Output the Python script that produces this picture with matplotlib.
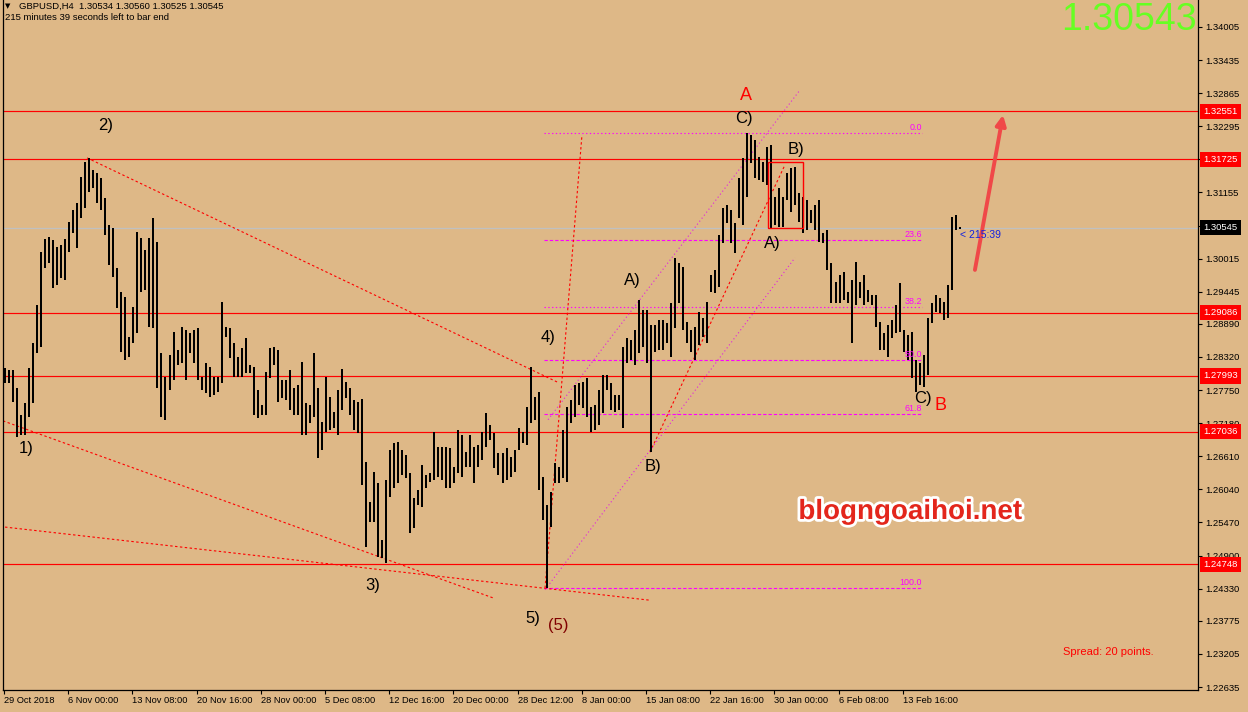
import numpy as np
import matplotlib
matplotlib.use("Agg")
import matplotlib.pyplot as plt
import matplotlib.patheffects as pe
from matplotlib.patches import Rectangle

plt.rcParams['font.family'] = ['Liberation Sans', 'DejaVu Sans']

# ---------------- data ----------------
symbol = "GBPUSD,H4"
last_ohlc = ["1.30534", "1.30560", "1.30525", "1.30545"]
bid = 1.30545

# H4 bars (each entry = 2 consecutive H4 bars merged): highs / lows
highs = [
    1.2813, 1.2810, 1.2810, 1.2779, 1.2732, 1.2753, 1.2813, 1.2856, 1.2922, 1.3013,
    1.3035, 1.3039, 1.3034, 1.3021, 1.3025, 1.3035, 1.3065, 1.3085, 1.3097, 1.3142,
    1.3168, 1.3175, 1.3154, 1.3149, 1.3140, 1.3106, 1.3059, 1.3054, 1.2985, 1.2944,
    1.2935, 1.2866, 1.2918, 1.3047, 1.3037, 1.3016, 1.3037, 1.3071, 1.3030, 1.2839,
    1.2798, 1.2835, 1.2875, 1.2844, 1.2884, 1.2879, 1.2873, 1.2879, 1.2882, 1.2798,
    1.2822, 1.2815, 1.2798, 1.2798, 1.2927, 1.2884, 1.2882, 1.2856, 1.2832, 1.2848,
    1.2865, 1.2818, 1.2815, 1.2775, 1.2749, 1.2806, 1.2848, 1.2849, 1.2844, 1.2792,
    1.2792, 1.2810, 1.2779, 1.2784, 1.2823, 1.2753, 1.2749, 1.2839, 1.2779, 1.2720,
    1.2798, 1.2763, 1.2737, 1.2775, 1.2811, 1.2789, 1.2779, 1.2758, 1.2754, 1.2760,
    1.2651, 1.2582, 1.2634, 1.2615, 1.2517, 1.2620, 1.2672, 1.2684, 1.2686, 1.2672,
    1.2663, 1.2632, 1.2589, 1.2603, 1.2646, 1.2629, 1.2632, 1.2703, 1.2677, 1.2677,
    1.2677, 1.2675, 1.2643, 1.2706, 1.2698, 1.2668, 1.2698, 1.2677, 1.2680, 1.2703,
    1.2736, 1.2715, 1.2701, 1.2667, 1.2667, 1.2675, 1.2660, 1.2672, 1.2710, 1.2703,
    1.2746, 1.2815, 1.2763, 1.2772, 1.2625, 1.2577, 1.2599, 1.2649, 1.2643, 1.2706,
    1.2746, 1.2758, 1.2784, 1.2787, 1.2789, 1.2796, 1.2746, 1.2749, 1.2775, 1.2801,
    1.2801, 1.2787, 1.2767, 1.2767, 1.2849, 1.2865, 1.2861, 1.2879, 1.2930, 1.2913,
    1.2913, 1.2887, 1.2887, 1.2896, 1.2896, 1.2891, 1.2925, 1.3003, 1.2994, 1.2987,
    1.2892, 1.2879, 1.2884, 1.2910, 1.2899, 1.2927, 1.2973, 1.2982, 1.3042, 1.3089,
    1.3094, 1.3085, 1.3063, 1.3140, 1.3175, 1.3218, 1.3214, 1.3206, 1.3177, 1.3168,
    1.3194, 1.3197, 1.3108, 1.3123, 1.3108, 1.3149, 1.3158, 1.3159, 1.3115, 1.3108,
    1.3102, 1.3085, 1.3094, 1.3102, 1.3046, 1.3051, 1.2994, 1.2961, 1.2973, 1.2978,
    1.2944, 1.2965, 1.2996, 1.2961, 1.2973, 1.2947, 1.2939, 1.2939, 1.2892, 1.2873,
    1.2887, 1.2896, 1.2922, 1.2959, 1.2879, 1.2870, 1.2875, 1.2827, 1.2822, 1.2835,
    1.2899, 1.2925, 1.2939, 1.2934, 1.2927, 1.2956, 1.3073, 1.3077, 1.3056,
]
lows = [
    1.2787, 1.2787, 1.2754, 1.2694, 1.2698, 1.2698, 1.2729, 1.2753, 1.2839, 1.2849,
    1.2985, 1.2994, 1.2951, 1.2956, 1.2968, 1.2965, 1.3013, 1.3046, 1.3020, 1.3071,
    1.3089, 1.3116, 1.3123, 1.3097, 1.3085, 1.3042, 1.2990, 1.2970, 1.2916, 1.2841,
    1.2827, 1.2832, 1.2856, 1.2873, 1.2944, 1.2947, 1.2884, 1.2882, 1.2779, 1.2729,
    1.2723, 1.2775, 1.2792, 1.2818, 1.2822, 1.2792, 1.2839, 1.2822, 1.2792, 1.2775,
    1.2770, 1.2763, 1.2767, 1.2772, 1.2787, 1.2866, 1.2830, 1.2798, 1.2798, 1.2798,
    1.2804, 1.2804, 1.2732, 1.2727, 1.2732, 1.2732, 1.2796, 1.2818, 1.2754, 1.2761,
    1.2758, 1.2741, 1.2732, 1.2732, 1.2698, 1.2698, 1.2718, 1.2729, 1.2658, 1.2672,
    1.2703, 1.2706, 1.2710, 1.2698, 1.2741, 1.2761, 1.2732, 1.2706, 1.2701, 1.2611,
    1.2505, 1.2548, 1.2548, 1.2487, 1.2486, 1.2477, 1.2591, 1.2606, 1.2615, 1.2629,
    1.2624, 1.2529, 1.2537, 1.2577, 1.2574, 1.2606, 1.2617, 1.2620, 1.2625, 1.2620,
    1.2606, 1.2606, 1.2615, 1.2632, 1.2625, 1.2643, 1.2643, 1.2615, 1.2643, 1.2655,
    1.2677, 1.2689, 1.2641, 1.2629, 1.2615, 1.2620, 1.2625, 1.2634, 1.2672, 1.2684,
    1.2680, 1.2718, 1.2723, 1.2603, 1.2551, 1.2434, 1.2539, 1.2615, 1.2615, 1.2624,
    1.2617, 1.2718, 1.2729, 1.2749, 1.2744, 1.2729, 1.2703, 1.2706, 1.2715, 1.2736,
    1.2775, 1.2741, 1.2737, 1.2741, 1.2710, 1.2822, 1.2827, 1.2818, 1.2839, 1.2849,
    1.2822, 1.2668, 1.2841, 1.2844, 1.2844, 1.2856, 1.2832, 1.2882, 1.2925, 1.2879,
    1.2856, 1.2841, 1.2827, 1.2853, 1.2866, 1.2856, 1.2944, 1.2942, 1.2953, 1.3028,
    1.3063, 1.3028, 1.3011, 1.3071, 1.3059, 1.3108, 1.3166, 1.3140, 1.3137, 1.3133,
    1.3128, 1.3054, 1.3059, 1.3056, 1.3056, 1.3102, 1.3082, 1.3094, 1.3065, 1.3046,
    1.3051, 1.3063, 1.3051, 1.3030, 1.3028, 1.2982, 1.2925, 1.2925, 1.2925, 1.2930,
    1.2925, 1.2856, 1.2922, 1.2934, 1.2922, 1.2927, 1.2922, 1.2884, 1.2844, 1.2844,
    1.2832, 1.2865, 1.2873, 1.2875, 1.2841, 1.2827, 1.2796, 1.2772, 1.2784, 1.2780,
    1.2801, 1.2891, 1.2910, 1.2908, 1.2896, 1.2899, 1.2947, 1.3051, 1.3052,
]

date_labels = ["29 Oct 2018", "6 Nov 00:00", "13 Nov 08:00", "20 Nov 16:00",
               "28 Nov 00:00", "5 Dec 08:00", "12 Dec 16:00", "20 Dec 00:00",
               "28 Dec 12:00", "8 Jan 00:00", "15 Jan 08:00", "22 Jan 16:00",
               "30 Jan 00:00", "6 Feb 08:00", "13 Feb 16:00"]
date_bar_index = [0, 32, 64, 96, 128, 160, 192, 224, 256, 288, 320, 352, 384, 416, 448]

price_tick_labels = ["1.34005", "1.33435", "1.32865", "1.32295", "1.31725", "1.31155",
                     "1.30585", "1.30015", "1.29445", "1.28890", "1.28320", "1.27750",
                     "1.27180", "1.26610", "1.26040", "1.25470", "1.24900", "1.24330",
                     "1.23775", "1.23205", "1.22635"]
price_ticks = [float(s) for s in price_tick_labels]

level_lines = [1.32551, 1.31725, 1.29086, 1.27993, 1.27036, 1.24748]
level_labels = ["1.32551", "1.31725", "1.29086", "1.27993", "1.27036", "1.24748"]

fib_levels = [0.0, 23.6, 38.2, 50.0, 61.8, 100.0]
fib_high = 1.3218
fib_low = 1.2434
fib_start, fib_end = 269.2, 457.6

# trend lines: ((bar, price), (bar, price))
red_trend = [((41.4, 1.3175), (275.7, 1.2789)),
             ((-0.5, 1.2722), (243.8, 1.2417)),
             ((0.5, 1.2539), (322.0, 1.2413)),
             ((269.7, 1.2434), (288.1, 1.3214)),
             ((322.0, 1.2668), (389.3, 1.3163))]
magenta_trend = [((271.2, 1.2724), (396.8, 1.3292)),
                 ((269.7, 1.2431), (394.3, 1.3003))]
box_bars = (380.9, 398.3)
box_prices = (1.3054, 1.3168)
arrow_from = (484.0, 1.2982)
arrow_to = (498.0, 1.3249)

wave_labels = [("1)", 11.0, 1.2675), ("2)", 50.8, 1.3230), ("3)", 184.0, 1.2439),
               ("4)", 271.2, 1.2865), ("5)", 263.7, 1.2382), ("A)", 313.0, 1.2963),
               ("B)", 323.5, 1.2644), ("C)", 368.9, 1.3242), ("B)", 394.8, 1.3189),
               ("A)", 382.9, 1.3027), ("C)", 458.1, 1.2761)]

# ---------------- drawing ----------------
BG = "#DEB887"
W, H = 1248, 712
fig = plt.figure(figsize=(W / 100, H / 100), dpi=100, facecolor=BG)
ax = fig.add_axes([3 / W, 22 / H, 1195 / W, 690 / H])
ax.set_facecolor(BG)
ax.set_xlim(-0.5, 595.2)
ax.set_ylim(1.225834, 1.3447)

ax.spines["top"].set_visible(False)
for s in ("left", "right", "bottom"):
    ax.spines[s].set_color("black")
    ax.spines[s].set_linewidth(0.9)

# horizontal levels
ax.axhline(bid, color="#C0C0C0", lw=0.9, zorder=1)
for lv in level_lines:
    ax.axhline(lv, color="#FF0000", lw=0.85, zorder=1)

# fib levels
rng = fib_high - fib_low
for f in fib_levels:
    p = fib_high - rng * f / 100.0
    if f in (0.0, 38.2):
        ls = (0, (1.2, 2.2))
    else:
        ls = (0, (3.0, 1.8))
    ax.plot([fib_start, fib_end], [p, p], color="#FF00FF", lw=0.8, ls=ls, zorder=2)
    ax.text(fib_end, p + 0.0002, f"{f:.1f}", color="#FF00FF", fontsize=6.4,
            ha="right", va="bottom", zorder=4)

# trend lines
for (x0, y0), (x1, y1) in red_trend:
    ax.plot([x0, x1], [y0, y1], color="#FF0000", lw=0.8, ls=(0, (2.2, 2.2)), zorder=2)
for (x0, y0), (x1, y1) in magenta_trend:
    ax.plot([x0, x1], [y0, y1], color="#E020E0", lw=0.8, ls=(0, (1.0, 2.4)), zorder=2)

# bars
bx = np.arange(len(highs)) * 2 + 0.5
ax.vlines(bx, lows, highs, colors="black", lw=1.44, antialiased=False, zorder=3)

# rectangle
ax.add_patch(Rectangle((box_bars[0], box_prices[0]), box_bars[1] - box_bars[0],
                       box_prices[1] - box_prices[0], fill=False, ec="#FF0000", lw=1.0, zorder=4))

# arrow
ax.annotate("", xy=arrow_to, xytext=arrow_from,
            arrowprops=dict(arrowstyle="-|>,head_length=0.6,head_width=0.3",
                            color="#F04848", lw=2.8, shrinkA=0, shrinkB=0), zorder=5)

# wave labels
for t, xx, yy in wave_labels:
    ax.text(xx, yy, t, fontsize=12, color="black", ha="center", va="center", zorder=5)
ax.text(276.2, 1.2369, "(5)", fontsize=12, color="#800000", ha="center", va="center", zorder=5)
ax.text(369.9, 1.3282, "A", fontsize=13, color="#FF0000", ha="center", va="center", zorder=5)
ax.text(466.6, 1.2749, "B", fontsize=13, color="#FF0000", ha="center", va="center", zorder=5)

# timer
ax.text(476.6, 1.3042, "< 215:39", fontsize=7.5, color="#1020E0", ha="left", va="center", zorder=5)

# axes ticks
ax.set_xticks(date_bar_index)
ax.set_xticklabels(date_labels)
for lbl in ax.get_xticklabels():
    lbl.set_ha("left")
ax.tick_params(axis="x", direction="out", length=3, width=0.8, pad=1.5,
               labelsize=6.7, colors="black")
ax.yaxis.tick_right()
ax.set_yticks(price_ticks)
ax.set_yticklabels(price_tick_labels)
ax.tick_params(axis="y", direction="out", length=3, width=0.8, pad=2.5,
               labelsize=6.8, colors="black")

# right axis boxes
def axx(px):
    return (px - 3) / 1195.0

for lv, lab in zip(level_lines, level_labels):
    ax.text(axx(1203.5), lv, lab, transform=ax.get_yaxis_transform(), fontsize=6.8,
            color="white", ha="left", va="center", clip_on=False, zorder=6,
            bbox=dict(boxstyle="square,pad=0.32", fc="#FF0000", ec="none"))
ax.text(axx(1203.5), bid, "1.30545", transform=ax.get_yaxis_transform(), fontsize=6.8,
        color="white", ha="left", va="center", clip_on=False, zorder=6,
        bbox=dict(boxstyle="square,pad=0.32", fc="black", ec="none"))

# header texts
fig.text(8 / W, 1 - 6 / H, "\u25BC", fontsize=5, color="black", ha="center", va="center",
         family=["DejaVu Sans"])
fig.text(19 / W, 1 - 6 / H, symbol + "  " + " ".join(last_ohlc), fontsize=6.8,
         color="black", ha="left", va="center")
fig.text(5 / W, 1 - 18 / H, "215 minutes 39 seconds left to bar end", fontsize=6.8,
         color="black", ha="left", va="center")

# big price
fig.text(1197 / W, 1 - 20 / H, "1.30543", fontsize=27, color="#66FF22", ha="right", va="center")

# spread
fig.text(1063 / W, 1 - 652 / H, "Spread: 20 points.", fontsize=8, color="#FF0000",
         ha="left", va="center")

# watermark
fig.text(910 / W, 1 - 512 / H, "blogngoaihoi.net", fontsize=20, fontweight="bold",
         color="#E3261C", ha="center", va="center",
         path_effects=[pe.withStroke(linewidth=4, foreground="white")])

fig.savefig("out.png", dpi=100, facecolor=BG)
